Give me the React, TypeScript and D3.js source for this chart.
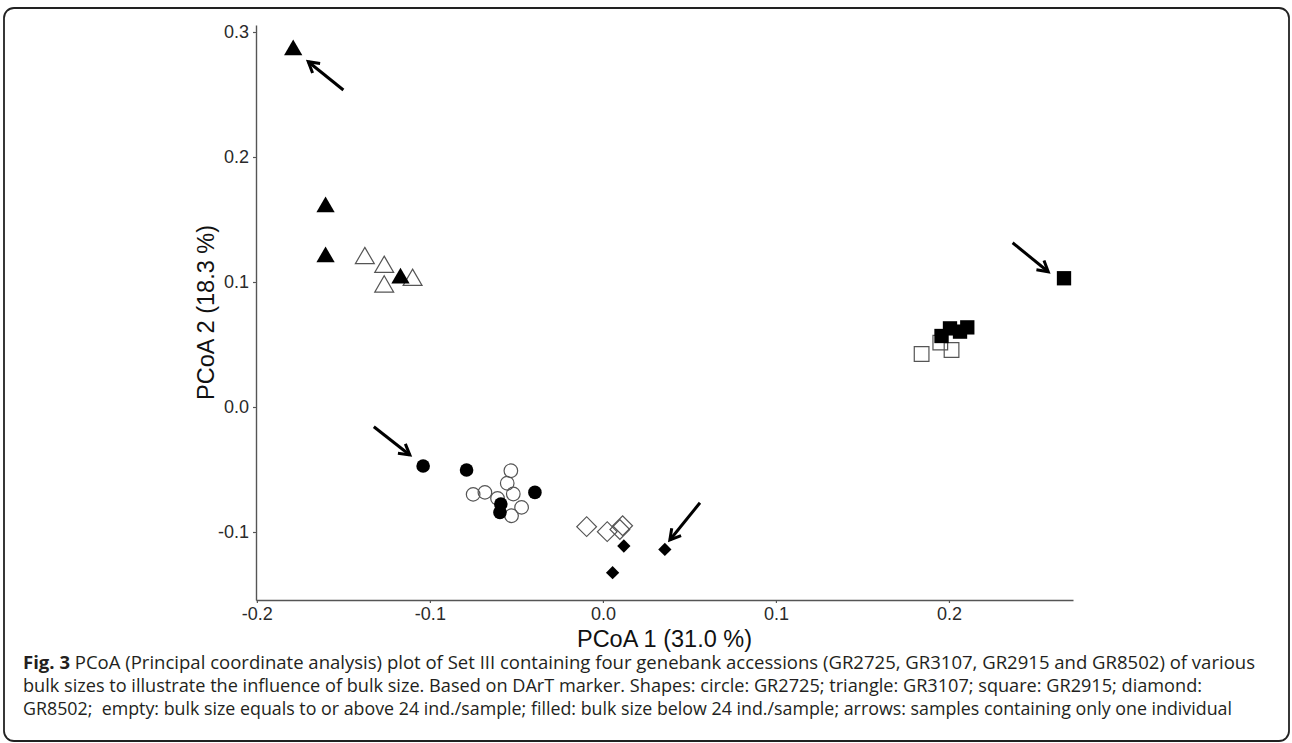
import { useRef, useEffect } from 'react';
import * as d3 from 'd3';

// PCoA coordinates: [PCoA 1, PCoA 2]
const circleEmpty: [number, number][] = [
  [-0.0532, -0.051], [-0.0553, -0.061], [-0.075, -0.0699], [-0.0682, -0.0683],
  [-0.0518, -0.0696], [-0.0609, -0.0731], [-0.047, -0.0803], [-0.0528, -0.087],
];
const circleFilled: [number, number][] = [
  [-0.1039, -0.0472], [-0.0788, -0.0504], [-0.059, -0.0776], [-0.0595, -0.0843], [-0.0393, -0.0683],
];
const triangleEmpty: [number, number][] = [
  [-0.1376, 0.119], [-0.1264, 0.112], [-0.110, 0.1016], [-0.1264, 0.0963],
];
const triangleFilled: [number, number][] = [
  [-0.179, 0.2856], [-0.1603, 0.160], [-0.1603, 0.120], [-0.117, 0.103],
];
const squareEmpty: [number, number][] = [
  [0.1842, 0.0424], [0.2015, 0.0456], [0.195, 0.0515],
];
const squareFilled: [number, number][] = [
  [0.1957, 0.0568], [0.2006, 0.0629], [0.2064, 0.0603], [0.2106, 0.0637], [0.2665, 0.103],
];
const diamondEmpty: [number, number][] = [
  [-0.0094, -0.0957], [0.0025, -0.0997], [0.0098, -0.098], [0.0114, -0.095],
];
const diamondFilled: [number, number][] = [
  [0.0121, -0.1112], [0.0358, -0.1139], [0.0056, -0.1325],
];
// arrows: [x, y, xend, yend]
const arrows: [number, number, number, number][] = [
  [-0.150, 0.2536, -0.1703, 0.2762],
  [-0.1324, -0.0158, -0.1116, -0.0384],
  [0.0561, -0.0766, 0.0387, -0.1064],
  [0.2368, 0.1314, 0.2574, 0.1082],
];

const xTicks = [-0.2, -0.1, 0.0, 0.1, 0.2];
const yTicks = [-0.1, 0.0, 0.1, 0.2, 0.3];
const xTitle = 'PCoA 1 (31.0 %)';
const yTitle = 'PCoA 2 (18.3 %)';
const captionLines = [
  ['Fig. 3', ' PCoA (Principal coordinate analysis) plot of Set III containing four genebank accessions (GR2725, GR3107, GR2915 and GR8502) of various'],
  ['', 'bulk sizes to illustrate the influence of bulk size. Based on DArT marker. Shapes: circle: GR2725; triangle: GR3107; square: GR2915; diamond:'],
  ['', 'GR8502;  empty: bulk size equals to or above 24 ind./sample; filled: bulk size below 24 ind./sample; arrows: samples containing only one individual'],
];

const W = 1292;
const H = 743;

export default function App() {
  const ref = useRef<SVGSVGElement | null>(null);

  useEffect(() => {
    const svg = d3.select(ref.current);
    svg.selectAll('*').remove();

    // outer rounded frame
    svg.append('rect')
      .attr('x', 4).attr('y', 8)
      .attr('width', 1285).attr('height', 733)
      .attr('rx', 10)
      .attr('fill', 'white')
      .attr('stroke', '#222')
      .attr('stroke-width', 1.8);

    const x = d3.scaleLinear().domain([-0.2005, 0.2717]).range([256, 1073]);
    const y = d3.scaleLinear().domain([-0.1544, 0.3056]).range([600, 25]);
    const fmt = (d: d3.NumberValue) => (+d).toFixed(1);

    const gx = svg.append('g')
      .attr('transform', `translate(0,${y.range()[0]})`)
      .call(d3.axisBottom(x).tickValues(xTicks).tickFormat(fmt).tickSize(3).tickSizeOuter(0).tickPadding(4));
    const gy = svg.append('g')
      .attr('transform', `translate(${x.range()[0]},0)`)
      .call(d3.axisLeft(y).tickValues(yTicks).tickFormat(fmt).tickSize(3).tickSizeOuter(0).tickPadding(4));

    [gx, gy].forEach(g => {
      g.select('.domain').attr('stroke', '#555').attr('stroke-width', 1.4);
      g.selectAll('.tick line').attr('stroke', '#555').attr('stroke-width', 1.2);
      g.selectAll('.tick text')
        .attr('fill', '#2a2a2a')
        .attr('font-family', 'Liberation Sans, Arial, sans-serif')
        .attr('font-size', 18);
    });

    svg.append('text')
      .attr('x', (x.range()[0] + x.range()[1]) / 2)
      .attr('y', 647)
      .attr('text-anchor', 'middle')
      .attr('font-family', 'Liberation Sans, Arial, sans-serif')
      .attr('font-size', 23.5)
      .attr('fill', '#111')
      .text(xTitle);

    svg.append('text')
      .attr('transform', `translate(214,${(y.range()[0] + y.range()[1]) / 2}) rotate(-90)`)
      .attr('text-anchor', 'middle')
      .attr('font-family', 'Liberation Sans, Arial, sans-serif')
      .attr('font-size', 23.5)
      .attr('fill', '#111')
      .text(yTitle);

    // points
    const layers: { data: [number, number][]; type: d3.SymbolType; size: number; filled: boolean; rotate: number }[] = [
      { data: triangleEmpty, type: d3.symbolTriangle, size: 155, filled: false, rotate: 0 },
      { data: triangleFilled, type: d3.symbolTriangle, size: 145, filled: true, rotate: 0 },
      { data: circleEmpty, type: d3.symbolCircle, size: 145, filled: false, rotate: 0 },
      { data: circleFilled, type: d3.symbolCircle, size: 145, filled: true, rotate: 0 },
      { data: squareEmpty, type: d3.symbolSquare, size: 215, filled: false, rotate: 0 },
      { data: squareFilled, type: d3.symbolSquare, size: 205, filled: true, rotate: 0 },
      { data: diamondEmpty, type: d3.symbolSquare, size: 195, filled: false, rotate: 45 },
      { data: diamondFilled, type: d3.symbolSquare, size: 88, filled: true, rotate: 45 },
    ];
    const pts = svg.append('g');
    layers.forEach(l => {
      pts.selectAll(null)
        .data(l.data)
        .enter()
        .append('path')
        .attr('d', d3.symbol().type(l.type).size(l.size)())
        .attr('transform', d => `translate(${x(d[0])},${y(d[1])}) rotate(${l.rotate})`)
        .attr('fill', l.filled ? '#000' : 'none')
        .attr('stroke', l.filled ? 'none' : '#555')
        .attr('stroke-width', 1.2);
    });

    // arrows pointing at single-individual samples
    const head = 12;
    const ga = svg.append('g').attr('stroke', '#000').attr('stroke-width', 3).attr('fill', 'none');
    arrows.forEach(a => {
      const x0 = x(a[0]), y0 = y(a[1]), x1 = x(a[2]), y1 = y(a[3]);
      const ang = Math.atan2(y1 - y0, x1 - x0);
      ga.append('line').attr('x1', x0).attr('y1', y0).attr('x2', x1).attr('y2', y1);
      const hp = d3.path();
      hp.moveTo(x1 - head * Math.cos(ang - Math.PI / 6), y1 - head * Math.sin(ang - Math.PI / 6));
      hp.lineTo(x1, y1);
      hp.lineTo(x1 - head * Math.cos(ang + Math.PI / 6), y1 - head * Math.sin(ang + Math.PI / 6));
      ga.append('path').attr('d', hp.toString()).attr('stroke-linejoin', 'miter');
    });

    // caption
    const lineLengths = [1232, 1179, 1209];
    captionLines.forEach((ln, i) => {
      const t = svg.append('text')
        .attr('x', 23)
        .attr('y', 669 + i * 23)
        .attr('font-family', 'Open Sans, sans-serif')
        .attr('font-size', 17.5)
        .attr('fill', '#231f20')
        .attr('textLength', lineLengths[i])
        .attr('lengthAdjust', 'spacingAndGlyphs')
        .style('white-space', 'pre');
      if (ln[0]) t.append('tspan').attr('font-weight', 'bold').text(ln[0]);
      t.append('tspan').text(ln[1]);
    });
  }, []);

  return (
    <svg ref={ref} width={W} height={H}
      style={{ position: 'absolute', left: 0, top: 0, background: 'white' }} />
  );
}
